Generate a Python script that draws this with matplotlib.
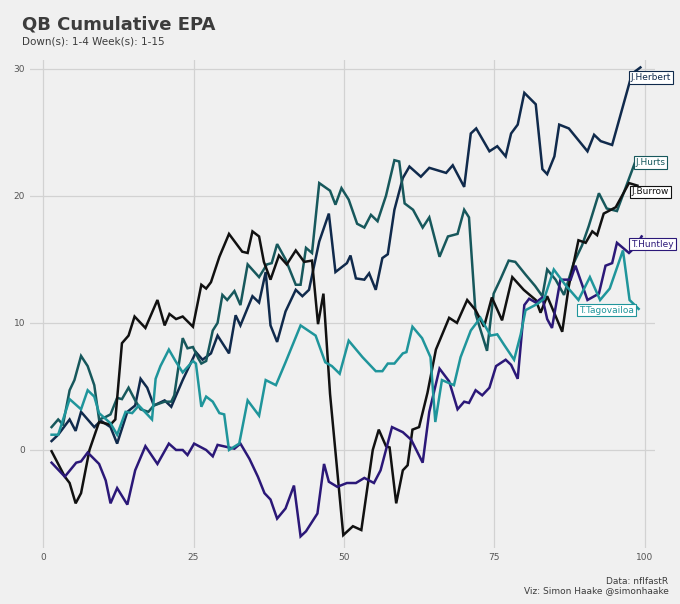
import matplotlib
matplotlib.use("Agg")
from matplotlib import pyplot as plt

# cumulative EPA (x = play number, y = EPA)
herbert_x = [1.4, 2.5, 4.4, 5.4, 6.3, 8.5, 9.6, 11.2, 12.3, 14, 15.3, 16.2, 17.3, 18.4, 20.2, 21.3, 23.2,
             25.4, 26.5, 27.9, 29, 30.9, 32, 32.8, 34.8, 35.9, 37, 37.8, 38.9, 40.3, 42, 43.1, 44.2, 45.9,
             47.5, 48.6, 50.5, 51.1, 52, 53.4, 54.2, 55.3, 56.4, 57.3, 58.4, 59.8, 60.9, 62.8, 64.2, 67,
             68.1, 70, 71.1, 72, 74.2, 75.5, 76.9, 77.8, 78.9, 80, 81.9, 83, 83.8, 85, 85.8, 87.4, 90.5,
             91.6, 92.7, 94.6, 97.9, 99.3]
herbert_y = [0.7, 1.2, 2.4, 1.5, 3.0, 1.8, 2.3, 1.8, 0.5, 3.0, 3.5, 5.6, 4.9, 3.5, 3.9, 3.4, 5.5,
             7.7, 7.1, 7.6, 9.0, 7.6, 10.6, 9.8, 12.1, 11.6, 14.0, 9.8, 8.5, 10.9, 12.6, 12.1, 12.6, 16.4,
             18.6, 14.0, 14.7, 15.3, 13.5, 13.4, 13.9, 12.6, 15.1, 15.4, 18.9, 21.4, 22.3, 21.5, 22.2, 21.8,
             22.4, 20.7, 24.9, 25.3, 23.5, 23.9, 23.1, 24.9, 25.6, 28.1, 27.2, 22.1, 21.7, 23.1, 25.6, 25.3, 23.5,
             24.8, 24.3, 24.0, 29.6, 30.1]

hurts_x = [1.4, 2.5, 3.3, 4.4, 5.2, 6.3, 7.4, 8.5, 9.3, 10.4, 11.2, 12.3, 13.1, 14.2, 15.3, 16.2, 17.5,
           18.4, 20.2, 21.3, 21.8, 23.2, 24, 24.9, 25.8, 26.3, 27.1, 28.2, 29, 29.8, 30.6, 31.8, 32.8, 34,
           35.9, 37.2, 38, 38.9, 40.3, 42, 42.8, 43.7, 44.7, 45.9, 47.7, 48.6, 49.6, 50.8, 52.2, 53.4,
           54.5, 55.6, 57, 58.4, 59.2, 60.1, 61.5, 63.1, 64.2, 65.9, 67.3, 68.9, 70, 70.8, 71.9, 73.8,
           74.9, 76, 77.4, 78.5, 80.2, 81.8, 83, 83.8, 85.2, 86.6, 88.2, 89.6, 90.7, 92.4, 93.7, 95.4, 98.7]
hurts_y = [1.8, 2.4, 2.0, 4.7, 5.5, 7.4, 6.6, 5.1, 2.4, 2.6, 2.8, 4.1, 4.0, 4.9, 3.9, 3.2, 3.0,
           3.5, 3.8, 3.8, 4.3, 8.8, 8.0, 8.1, 7.2, 6.8, 7.0, 9.4, 10.0, 12.2, 11.8, 12.5, 11.4, 14.6,
           13.6, 14.6, 14.7, 16.2, 15.0, 13.0, 13.0, 15.9, 15.5, 21.0, 20.4, 19.3, 20.6, 19.7, 17.8, 17.5,
           18.5, 18.0, 20.0, 22.8, 22.7, 19.4, 18.9, 17.5, 18.3, 15.2, 16.8, 17.0, 18.9, 18.3, 10.7, 7.8,
           12.3, 13.4, 14.9, 14.8, 13.8, 12.9, 12.1, 14.2, 13.4, 12.2, 14.7, 16.1, 17.6, 20.2, 19.0, 18.8, 23.0]

burrow_x = [1.4, 3.6, 4.4, 5.4, 6.3, 7.7, 9.3, 11.2, 12, 13.1, 14.2, 15.2, 17, 19, 20.2, 21, 22.1, 23.2,
            24.9, 26.3, 27.1, 27.9, 29.3, 30.9, 33.1, 34, 34.8, 35.9, 36.7, 37.8, 39.2, 40.5, 42, 43.4,
            44.7, 45.7, 46.6, 47.7, 49.9, 51.5, 52.9, 54.8, 55.8, 57, 57.6, 58.7, 59.8, 60.6, 61.4, 62.5,
            63.9, 65.3, 67.5, 68.8, 70.5, 71.9, 73.3, 74.6, 76.3, 78, 79.9, 81.9, 82.7, 83.8, 86.3, 87.4,
            89, 90.2, 91.3, 92.1, 93.2, 95.2, 97.4, 98.8]
burrow_y = [-0.1, -2.1, -2.6, -4.2, -3.4, 0.0, 2.2, 2.0, 2.4, 8.4, 9.0, 10.5, 9.6, 11.8, 9.8, 10.7, 10.3, 10.5,
            9.7, 13.0, 12.7, 13.2, 15.2, 17.0, 15.6, 15.5, 17.2, 16.8, 14.8, 13.4, 15.3, 14.6, 15.7, 14.8,
            14.9, 9.9, 12.3, 4.4, -6.7, -6.0, -6.3, 0.0, 1.6, 0.3, 0.2, -4.2, -1.6, -1.2, 1.6, 1.8,
            4.5, 7.9, 10.4, 10.0, 11.8, 11.0, 9.7, 12.0, 10.2, 13.6, 12.6, 11.8, 10.8, 12.1, 9.3, 12.9,
            16.5, 16.3, 17.2, 16.9, 18.6, 19.1, 21.0, 20.8]

huntley_x = [1.4, 3.6, 5.5, 6.3, 7.4, 9.3, 10.4, 11.2, 12.3, 14, 15.3, 17, 19, 20.9, 22.1, 23.2, 24, 25.1,
             27.1, 28.2, 29, 31.8, 32.8, 34.3, 35.7, 36.8, 37.8, 38.9, 40.3, 41.7, 42.8, 43.7, 45.6, 46.7,
             47.5, 48.9, 50.5, 52, 53.4, 55, 56.1, 58, 59.8, 61.2, 63.1, 64.2, 65.9, 67.5, 68.9, 70, 70.8,
             71.9, 73, 74.2, 75.3, 76.9, 77.8, 78.9, 80, 80.8, 81.9, 83, 83.8, 84.6, 86, 87.7, 88.5, 90.5,
             92.4, 93.5, 94.6, 95.4, 97.4, 98.5, 99.5]
huntley_y = [-1.0, -2.1, -1.0, -0.9, -0.2, -1.1, -2.4, -4.2, -3.0, -4.3, -1.6, 0.3, -1.1, 0.5, 0.0, 0.0, -0.4, 0.5,
             0.0, -0.5, 0.4, 0.1, 0.5, -0.7, -2.1, -3.4, -3.9, -5.4, -4.6, -2.8, -6.8, -6.4, -5.0, -1.1,
             -2.5, -2.9, -2.6, -2.6, -2.2, -2.6, -1.6, 1.8, 1.4, 0.8, -1.0, 3.0, 6.4, 5.4, 3.2, 3.8, 3.7,
             4.7, 4.3, 4.9, 6.6, 7.1, 6.7, 5.6, 11.4, 11.9, 11.6, 12.0, 10.3, 9.6, 13.4, 13.4, 14.5, 11.8,
             12.3, 14.5, 14.7, 16.3, 15.5, 16.0, 16.8]

tua_x = [1.4, 2.5, 4.4, 6.3, 7.4, 8.5, 9.3, 11.2, 12.3, 13.7, 14.8, 15.9, 18.1, 18.7, 19.5, 20.9, 22, 23.2,
         24.9, 25.4, 26.3, 27.1, 28.2, 29.3, 30.1, 30.9, 32.6, 34, 35.9, 37, 38.7, 40.3, 42.8, 45.3, 46.9,
         48, 49.3, 50.8, 53.1, 55.3, 56.4, 57.3, 58.4, 59.8, 60.4, 61.4, 63, 64.4, 65.2, 66.3, 68.3, 69.4,
         71.1, 72.7, 74.4, 75.5, 76.6, 78.3, 79.4, 80.2, 82.2, 83.3, 84.9, 86.8, 89, 90.9, 92.6, 94.2,
         96.4, 97.5, 99]
tua_y = [1.2, 1.2, 4.0, 3.2, 4.7, 4.2, 2.9, 2.1, 1.2, 3.0, 2.9, 3.5, 2.4, 5.6, 6.6, 7.9, 7.0, 6.1,
         7.0, 6.8, 3.4, 4.2, 3.8, 2.9, 2.8, 0.0, 0.5, 3.9, 2.7, 5.5, 5.1, 6.9, 9.8, 9.0, 6.9,
         6.6, 6.0, 8.6, 7.3, 6.2, 6.2, 6.8, 6.8, 7.6, 7.7, 9.7, 8.8, 7.3, 2.2, 5.5, 5.1, 7.3,
         9.4, 10.4, 9.0, 9.1, 8.3, 7.1, 9.1, 11.0, 11.5, 11.9, 14.2, 13.0, 11.8, 13.6, 11.8, 12.7,
         15.7, 11.8, 11.1]

series = [
    ("J.Herbert", herbert_x, herbert_y, "#102a4c", (101.0, 29.3)),
    ("J.Hurts", hurts_x, hurts_y, "#17585c", (101.0, 22.6)),
    ("J.Burrow", burrow_x, burrow_y, "#111111", (101.0, 20.3)),
    ("T.Huntley", huntley_x, huntley_y, "#2b1878", (101.3, 16.2)),
    ("T.Tagovailoa", tua_x, tua_y, "#1f959b", (93.7, 11.0)),
]

bg = "#f0f0f0"
fig = plt.figure(figsize=(6.8, 6.04), dpi=100, facecolor=bg)
ax = fig.add_axes([0.044, 0.093, 0.919, 0.808], facecolor=bg)

for name, xs, ys, col, (lx, ly) in series:
    ax.plot(xs, ys, color=col, lw=1.8, solid_joinstyle="miter")
for name, xs, ys, col, (lx, ly) in series:
    ax.text(lx, ly, name, color=col, fontsize=6.5, ha="center", va="center", clip_on=False,
            bbox=dict(boxstyle="square,pad=0.2", fc="white", ec=col, lw=0.8))

ax.set_xlim(-2.2, 101.7)
ax.set_ylim(-7.7, 30.7)
ax.set_xticks([0, 25, 50, 75, 100])
ax.set_yticks([0, 10, 20, 30])
ax.grid(True, color="#d2d2d2", lw=0.9)
ax.tick_params(length=0, labelsize=6.5, labelcolor="#555555")
for s in ax.spines.values():
    s.set_visible(False)

fig.text(0.032, 0.975, "QB Cumulative EPA", fontsize=13, fontweight="bold", color="#3c3c3c", va="top")
fig.text(0.032, 0.94, "Down(s): 1-4 Week(s): 1-15", fontsize=7.5, color="#3c3c3c", va="top")
fig.text(0.983, 0.045, "Data: nflfastR\nViz: Simon Haake @simonhaake", fontsize=6.5,
         color="#3c3c3c", ha="right", va="top", linespacing=1.1)

fig.savefig("out.png", dpi=100, facecolor=bg)
